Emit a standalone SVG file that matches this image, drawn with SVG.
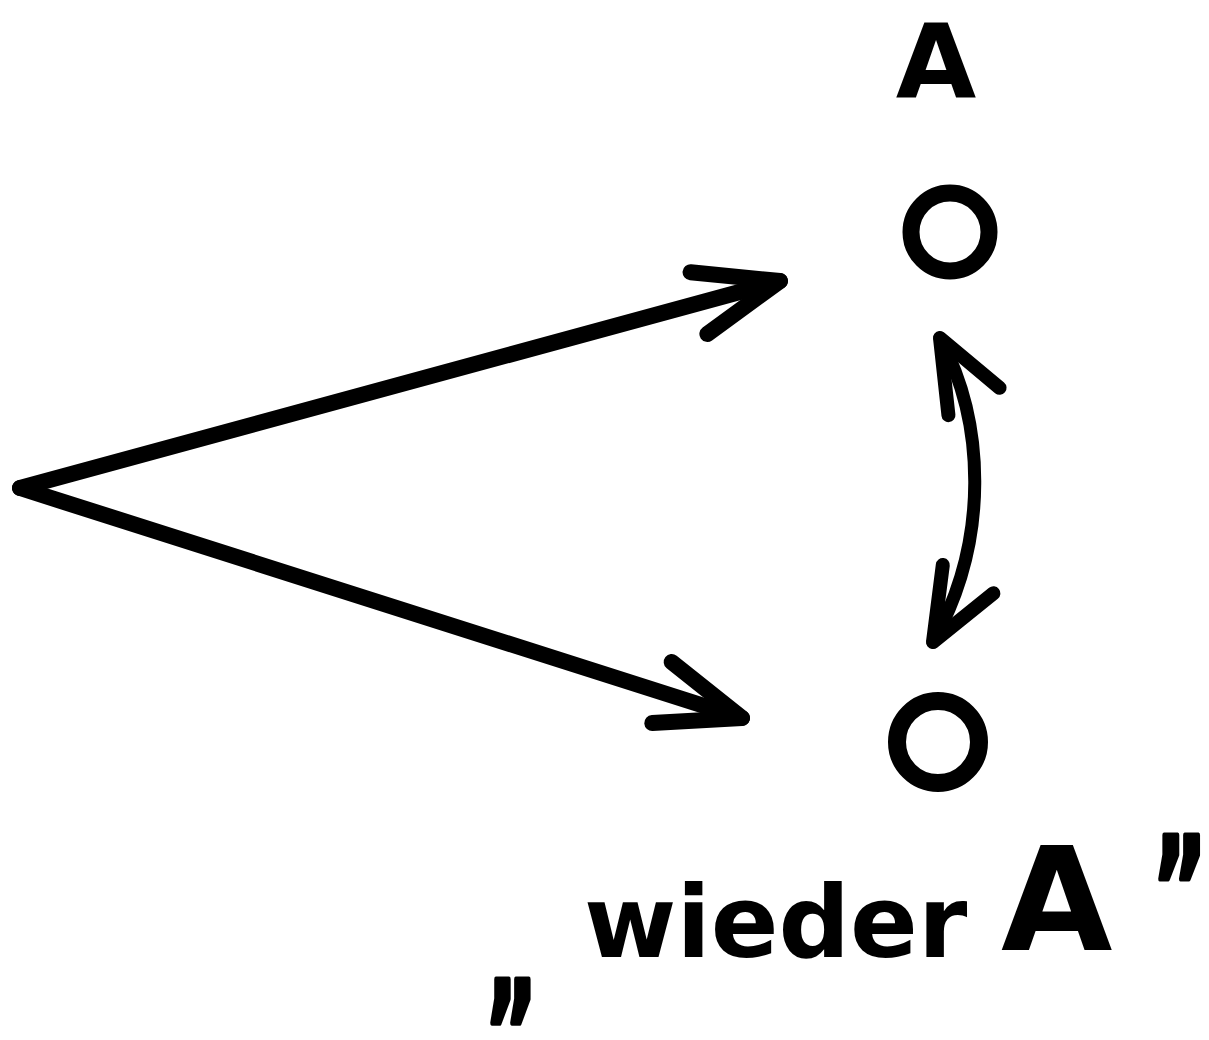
<svg xmlns="http://www.w3.org/2000/svg" width="1209" height="1040" viewBox="0 0 1209 1040">
  <style>
    .ink { fill: none; stroke: #000; stroke-linecap: round; stroke-linejoin: round; }
    .shaft { stroke-width: 16; }
    .curve { stroke-width: 13; }
    .node-ring { fill: none; stroke: #000; }
    .lbl { font-family: "DejaVu Sans", "Liberation Sans", sans-serif; font-weight: bold; fill: #000; }
    .quote { stroke: #000; stroke-width: 5; stroke-linejoin: round; }
  </style>
  <defs>
    <marker id="head-lg" markerUnits="userSpaceOnUse" orient="auto" refX="0" refY="0" overflow="visible" markerWidth="1" markerHeight="1">
      <path d="M -84 -32 L 0 0 L -84 32" fill="none" stroke="#000" stroke-width="16" stroke-linecap="round" stroke-linejoin="round"/>
    </marker>
    <marker id="head-sm" markerUnits="userSpaceOnUse" orient="auto-start-reverse" refX="0" refY="0" overflow="visible" markerWidth="1" markerHeight="1">
      <path d="M -72 -29 L 0 0 L -72 29" fill="none" stroke="#000" stroke-width="14" stroke-linecap="round" stroke-linejoin="round"/>
    </marker>
  </defs>
  <rect width="1209" height="1040" fill="#fff"/>

  <g id="connectors">
    <path id="edge-to-A" class="ink shaft" d="M 20 488 L 780 281" marker-end="url(#head-lg)"/>
    <path id="edge-to-wieder-A" class="ink shaft" d="M 20 488 L 742 718" marker-end="url(#head-lg)"/>
    <path id="edge-A-wieder-A" class="ink curve" d="M 940 338 C 985 422, 990 540, 933 642" marker-start="url(#head-sm)" marker-end="url(#head-sm)"/>
  </g>

  <g id="node-A">
    <text class="lbl" x="936" y="98" font-size="104" text-anchor="middle">A</text>
    <circle class="node-ring" cx="950" cy="232" r="39" stroke-width="17"/>
  </g>

  <g id="node-wieder-A">
    <circle class="node-ring" cx="938" cy="742" r="41" stroke-width="18"/>
    <text class="lbl quote" font-size="130" transform="translate(486,1006) scale(0.62,1.08)">„</text>
    <text class="lbl"><tspan x="584" y="957" font-size="100">wieder</tspan><tspan x="1001" y="950" font-size="144">A</tspan></text>
    <text class="lbl quote" font-size="140" transform="translate(1152,938) scale(0.6,1)">”</text>
  </g>
</svg>
